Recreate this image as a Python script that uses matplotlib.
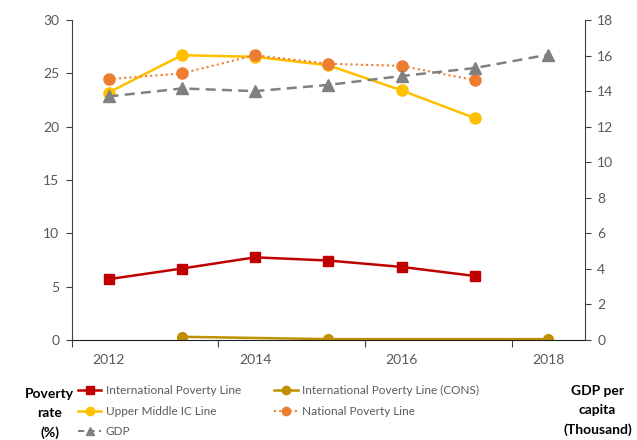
import matplotlib
matplotlib.use("Agg")
import matplotlib.pyplot as plt
from matplotlib.lines import Line2D

plt.rcParams['font.family'] = ['Lato', 'DejaVu Sans']

years = [2012, 2013, 2014, 2015, 2016, 2017]
ipl = [5.7, 6.7, 7.75, 7.45, 6.85, 6.0]
umic = [23.2, 26.7, 26.55, 25.75, 23.4, 20.8]
national = [24.45, 25.0, 26.7, 25.9, 25.7, 24.35]

cons_years = [2013, 2015, 2018]
cons = [0.3, 0.08, 0.08]

gdp_years = [2012, 2013, 2014, 2015, 2016, 2017, 2018]
gdp = [13.7, 14.15, 14.0, 14.35, 14.85, 15.3, 16.05]

xticks = [2012, 2014, 2016, 2018]
tick_col = "#595959"

fig = plt.figure(figsize=(6.37, 4.40), dpi=100)
ax = fig.add_axes([0.113, 0.2273, 0.805, 0.7272])
ax2 = ax.twinx()

ax.plot(years, ipl, color="#C00000", marker="s", markersize=7, lw=1.8)
ax.plot(cons_years, cons, color="#BF9000", marker="o", markersize=7, lw=1.8)
ax.plot(years, umic, color="#FFC000", marker="o", markersize=8, lw=1.8)
ax.plot(years, national, color="#ED7D31", marker="o", markersize=8, lw=1.5, ls=(0, (1, 1.5)))
ax2.plot(gdp_years, gdp, color="#808080", marker="^", markersize=8, lw=1.8, ls=(0, (4, 2.5)))

ax.set_xlim(2011.5, 2018.5)
ax.set_ylim(0, 30)
ax2.set_ylim(0, 18)
ax.set_yticks(range(0, 31, 5))
ax2.set_yticks(range(0, 19, 2))
ax.set_xticks([2011.5, 2013.5, 2015.5, 2017.5])
ax.set_xticklabels([])
ax.set_xticks(xticks, minor=True)
ax.set_xticklabels([str(y) for y in xticks], minor=True)
ax.tick_params(axis="x", which="minor", length=0, pad=10, labelsize=10, colors=tick_col)
ax.tick_params(axis="x", which="major", length=5, direction="out", color="#404040")

for a in (ax, ax2):
    a.spines["top"].set_visible(False)
    a.tick_params(axis="y", length=4, direction="out", labelsize=10, labelcolor=tick_col, color="#404040", pad=5)
ax.spines["right"].set_visible(False)
ax2.spines["left"].set_visible(False)
ax2.spines["bottom"].set_visible(False)
ax.spines["left"].set_color("#404040")
ax.spines["bottom"].set_color("#202020")
ax2.spines["right"].set_color("#404040")

handles = [
    Line2D([], [], color="#C00000", marker="s", markersize=6, lw=1.8),
    Line2D([], [], color="#FFC000", marker="o", markersize=6, lw=1.8),
    Line2D([], [], color="#808080", marker="^", markersize=6, lw=1.5, ls=(0, (3, 2))),
    Line2D([], [], color="#BF9000", marker="o", markersize=6, lw=1.8),
    Line2D([], [], color="#ED7D31", marker="o", markersize=6, lw=1.5, ls=(0, (1, 1.5))),
]
labels = ["International Poverty Line", "Upper Middle IC Line", "GDP",
          "International Poverty Line (CONS)", "National Poverty Line"]
leg = fig.legend(handles, labels, ncol=2, loc="upper left", bbox_to_anchor=(0.113, 0.138),
                 frameon=False, fontsize=8.5, handlelength=2.0, handletextpad=0.35,
                 columnspacing=2.8, labelspacing=0.8, borderpad=0)
for t in leg.get_texts():
    t.set_color(tick_col)

fig.text(0.078, 0.061, "Poverty\nrate\n(%)", ha="center", va="center", fontsize=10,
         fontweight="bold", linespacing=1.7)
fig.text(0.938, 0.066, "GDP per\ncapita\n(Thousand)", ha="center", va="center", fontsize=10,
         fontweight="bold", linespacing=1.7)

fig.savefig("out.png", dpi=100)
